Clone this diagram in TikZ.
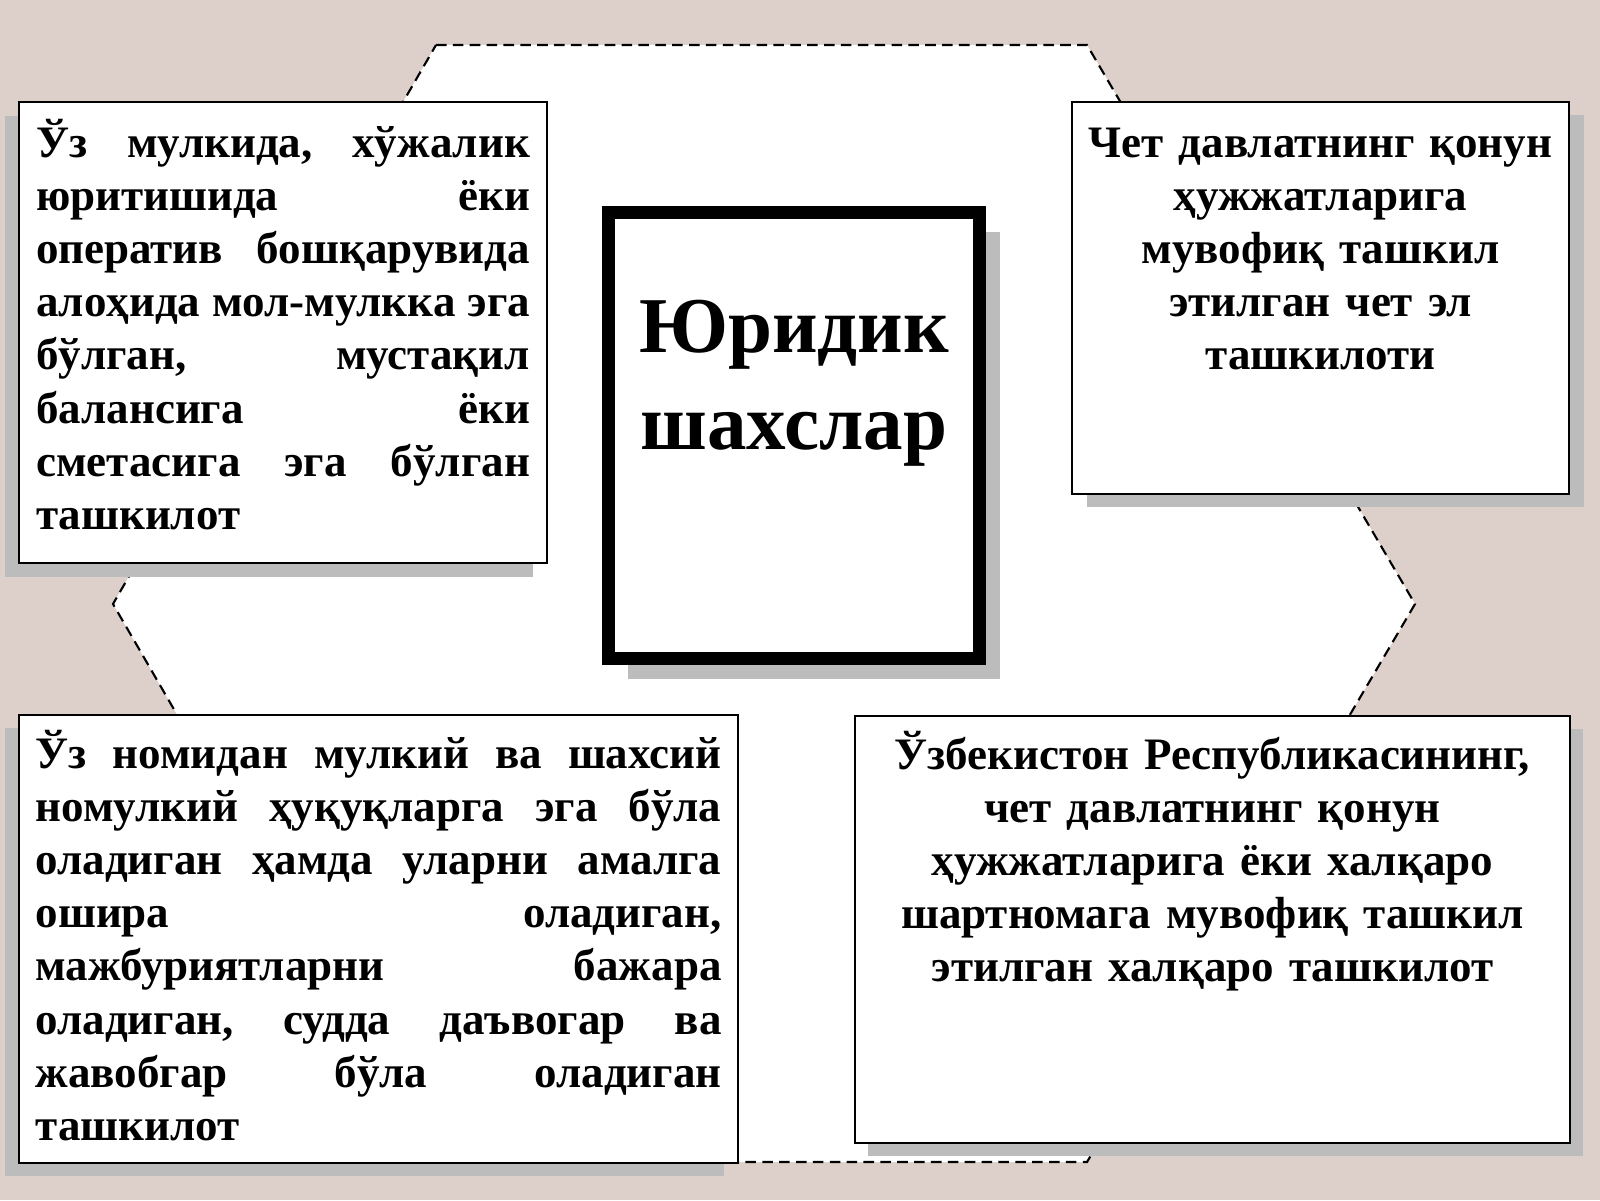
\documentclass[tikz,border=0pt]{standalone}
\usepackage{fontspec}
\setmainfont{Liberation Serif}
\usetikzlibrary{shadows}

\definecolor{bgpink}{RGB}{221,207,202}
\definecolor{shade}{RGB}{188,188,188}
\newlength{\jw}
\newcommand{\jline}[1]{\leavevmode\hbox to\jw{\frenchspacing\spaceskip=.25em plus 1fil\relax #1}}

\begin{document}
\begin{tikzpicture}[
        panel/.style={draw, fill=white, line width=.6pt, anchor=north west, inner ysep=0pt,
            font=\bfseries\fontsize{12.8}{15.14}\selectfont},
        just/.style={panel, text width=#1, align=left, execute at begin node={\setlength{\jw}{#1}}},
        sh/.style 2 args={drop shadow={shadow xshift=#1, shadow yshift=#2, fill=shade, opacity=1}}
    ]
            % Background
            \fill[bgpink] (0,0) rectangle (16,12);
            \useasboundingbox (0,0) rectangle (16,12);

            % Hexagon
            \draw[fill=white, line width=.6pt, dash pattern=on 3pt off 1.8pt]
                (4.36,11.55) -- (10.87,11.55) -- (14.15,5.96) -- (10.87,.38) -- (4.36,.38) -- (1.13,5.96) -- cycle;

            % Title
            \node[draw, fill=white, line width=3.6pt, anchor=north west, inner sep=0pt,
                minimum width=3.713cm, text width=3.6cm, align=center,
                text height=1.4065cm, text depth=3.0565cm, sh={.2cm}{-.2cm},
                font=\bfseries\fontsize{22.5}{27.6}\selectfont] (title) at (6.02,9.94) {Юридик\\шахслар};

            % Boxes
            \node[just=4.94cm, sh={-.14cm}{-.14cm}, inner xsep=.17cm,
                text height=.55cm, text depth=4.06cm] (own) at (.18,10.99)
                {\jline{Ўз мулкида, хўжалик}\\
                 \jline{юритишида ёки}\\
                 \jline{оператив бошқарувида}\\
                 \jline{алоҳида мол-мулкка эга}\\
                 \jline{бўлган, мустақил}\\
                 \jline{балансига ёки}\\
                 \jline{сметасига эга бўлган}\\
                 ташкилот};
            \node[panel, sh={.15cm}{-.13cm}, text width=4.75cm, inner xsep=.11cm, align=center,
                text height=.55cm, text depth=3.37cm] (foreign) at (10.71,10.99)
                {Чет давлатнинг қонун\\ҳужжатларига\\мувофиқ ташкил\\этилган чет эл\\ташкилоти};
            \node[just=6.86cm, sh={-.14cm}{-.13cm}, inner xsep=.165cm,
                text height=.53cm, text depth=3.95cm] (rights) at (.18,4.86)
                {\jline{Ўз номидан мулкий ва шахсий}\\
                 \jline{номулкий ҳуқуқларга эга бўла}\\
                 \jline{оладиган ҳамда уларни амалга}\\
                 \jline{ошира оладиган,}\\
                 \jline{мажбуриятларни бажара}\\
                 \jline{оладиган, судда даъвогар ва}\\
                 \jline{жавобгар бўла оладиган}\\
                 ташкилот};
            \node[panel, sh={.13cm}{-.13cm}, text width=6.8cm, inner xsep=.175cm, align=center,
                text height=.53cm, text depth=3.74cm] (intl) at (8.54,4.85)
                {Ўзбекистон Республикасининг,\\чет давлатнинг қонун\\ҳужжатларига ёки халқаро\\шартномага мувофиқ ташкил\\этилган халқаро ташкилот};
\end{tikzpicture}
\end{document}
